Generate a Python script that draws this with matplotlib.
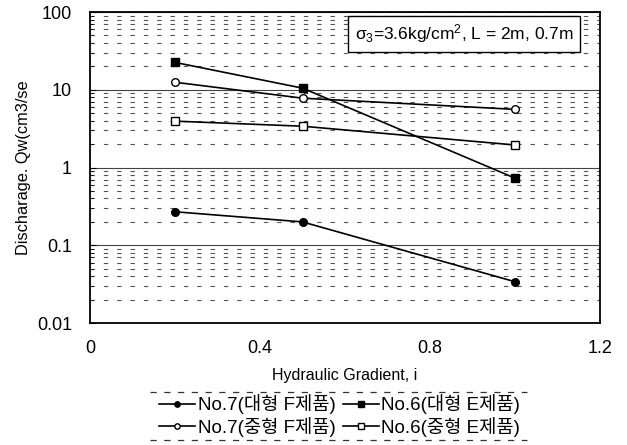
import numpy as np
import matplotlib
matplotlib.use('Agg')
import matplotlib.pyplot as plt
from matplotlib.lines import Line2D
from matplotlib.ticker import FixedLocator, FixedFormatter, LogLocator, NullFormatter

plt.rcParams['font.family'] = ['Liberation Sans', 'Noto Sans CJK KR', 'DejaVu Sans']
plt.rcParams['mathtext.fontset'] = 'custom'
plt.rcParams['mathtext.rm'] = 'Liberation Sans'
plt.rcParams['mathtext.it'] = 'Liberation Sans'

# 동수경사별 배수량
gradient = [0.2, 0.5, 1.0]
no7_large = [0.27, 0.20, 0.034]
no6_large = [22.5, 10.5, 0.73]
no7_mid = [12.5, 7.8, 5.6]
no6_mid = [3.95, 3.4, 1.95]

labels = ['No.7(대형 F제품)', 'No.6(대형 E제품)', 'No.7(중형 F제품)', 'No.6(중형 E제품)']
x_ticks = [0, 0.4, 0.8, 1.2]
y_ticks = [0.01, 0.1, 1, 10, 100]
y_ticklabels = ['0.01', '0.1', '1', '10', '100']

fig = plt.figure(figsize=(6.27, 4.45), dpi=100)
ax = fig.add_axes([0.1435, 0.274, 0.8135, 0.699])

h1, = ax.plot(gradient, no7_large, '-o', color='black', lw=1.2, ms=5.5, mfc='black', label=labels[0])
h2, = ax.plot(gradient, no6_large, '-s', color='black', lw=1.2, ms=5.5, mfc='black', label=labels[1])
h3, = ax.plot(gradient, no7_mid, '-o', color='black', lw=1.2, ms=5.5, mfc='white', label=labels[2])
h4, = ax.plot(gradient, no6_mid, '-s', color='black', lw=1.2, ms=5.5, mfc='white', label=labels[3])

ax.set_yscale('log')
ax.set_xlim(0, 1.2)
ax.set_ylim(0.01, 100)
ax.xaxis.set_major_locator(FixedLocator(x_ticks))
ax.xaxis.set_major_formatter(FixedFormatter([str(t) for t in x_ticks]))
ax.yaxis.set_major_locator(FixedLocator(y_ticks))
ax.yaxis.set_major_formatter(FixedFormatter(y_ticklabels))
ax.yaxis.set_minor_locator(LogLocator(base=10, subs=np.arange(2, 10)))
ax.yaxis.set_minor_formatter(NullFormatter())

ax.grid(True, which='major', axis='y', color='#444444', lw=0.8)
ax.grid(True, which='minor', axis='y', color='#555555', lw=0.8, ls=(0, (4, 8)))
ax.tick_params(axis='both', which='both', direction='in', labelsize=13)
ax.tick_params(axis='x', length=0, pad=12)
ax.tick_params(axis='y', which='major', length=4, pad=13)
ax.tick_params(axis='y', which='minor', length=2.5)
for s in ax.spines.values():
    s.set_linewidth(1.3)

ax.set_xlabel('Hydraulic Gradient, i', fontsize=11.5, labelpad=8)
ax.set_ylabel('Discharage. Qw(cm3/se', fontsize=11.8, labelpad=4)

ax.text(0.948, 0.966, 'σ$_3$=3.6kg/cm$^2$, L = 2m, 0.7m', transform=ax.transAxes,
        ha='right', va='top', fontsize=12.5,
        bbox=dict(boxstyle='square,pad=0.4', fc='white', ec='black', lw=1.0))

# 2행 2열 범례: 윗줄 대형, 아랫줄 중형
leg = fig.legend([h1, h3, h2, h4], [labels[0], labels[2], labels[1], labels[3]],
                 loc='center', bbox_to_anchor=(0.542, 0.066), ncol=2, fontsize=13.5,
                 frameon=False, handlelength=1.9, handletextpad=0.15,
                 columnspacing=0.4, labelspacing=0.15, markerscale=0.7)

# 범례 위아래 점선
for y in (0.119, 0.011):
    fig.add_artist(Line2D([0.24, 0.84], [y, y], transform=fig.transFigure,
                          color='#333333', lw=0.9, ls=(0, (5, 6))))

fig.savefig('out.png', dpi=100)
